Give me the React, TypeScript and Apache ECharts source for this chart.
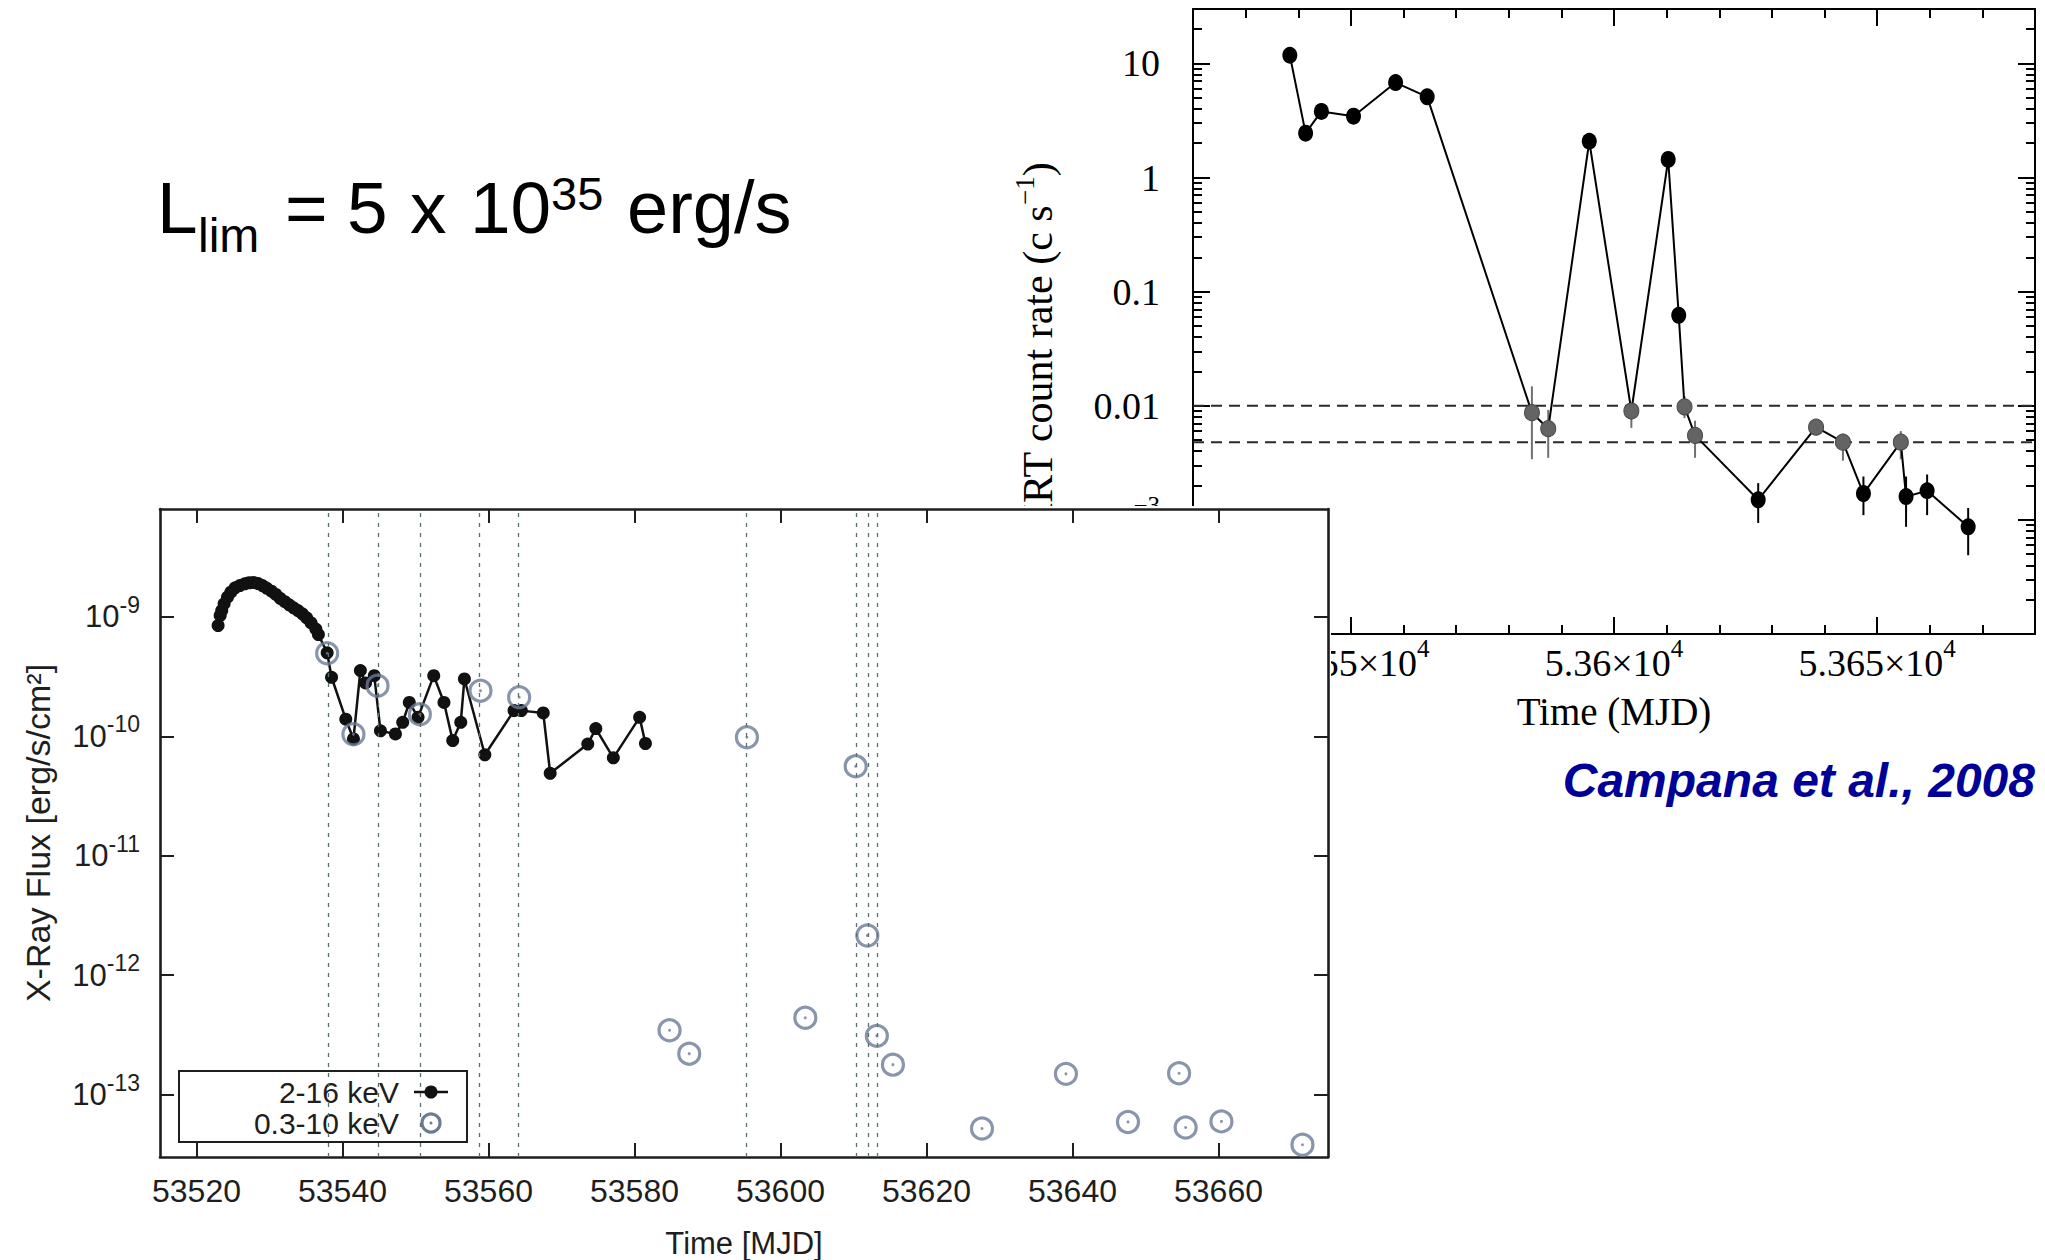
import React, { useEffect, useRef } from "react";
import * as echarts from "echarts";

const SERIF = "'Liberation Serif', 'Times New Roman', Times, serif";
const SANS = "'Liberation Sans', Arial, Helvetica, sans-serif";

// ---------------- Right panel: Swift/XRT count rate (Campana et al., 2008) ----------------
const xrtMJD = [53538.4, 53541.4, 53544.4, 53550.5, 53558.5, 53564.5, 53584.4, 53587.5, 53595.3, 53603.3, 53610.3, 53612.3, 53613.4, 53615.4, 53627.4, 53638.4, 53643.5, 53647.4, 53654.5, 53655.5, 53659.5, 53667.3];
const xrtRate = [11.8, 2.45, 3.8, 3.45, 6.8, 5.1, 0.0087, 0.0063, 2.08, 0.009, 1.44, 0.062, 0.0098, 0.0055, 0.0015, 0.0065, 0.0048, 0.0017, 0.0048, 0.0016, 0.0018, 0.00087];
const xrtGrey = [0, 0, 0, 0, 0, 0, 1, 1, 0, 1, 0, 0, 1, 1, 0, 1, 1, 0, 1, 0, 0, 0];
const xrtErrLow = [null, null, null, null, null, null, 0.0034, 0.0035, null, 0.0064, null, null, 0.0078, 0.0035, 0.00094, 0.0056, 0.0033, 0.0011, 0.0034, 0.00087, 0.0011, 0.00049];
const xrtErrHigh = [null, null, null, null, null, null, 0.0148, 0.0092, null, 0.0106, null, null, 0.0121, 0.0074, 0.0021, 0.0076, 0.0057, 0.0024, 0.006, 0.0024, 0.0025, 0.00127];
const xrtLimits = [0.01, 0.0048];
const xrtRangeX = [53520, 53680];
const xrtMajorX = [53550, 53600, 53650];
const xrtMinorX = [53530, 53540, 53560, 53570, 53580, 53590, 53610, 53620, 53630, 53640, 53660, 53670];
const xrtMajorY = [0.0001, 0.001, 0.01, 0.1, 1, 10];
const xrtMinorY: number[] = [];
for (const d of xrtMajorY) {
  for (let k = 2; k <= 9; k++) {
    if (k * d < 30) xrtMinorY.push(+(k * d).toPrecision(3));
  }
}

// ---------------- Left panel: X-ray flux ----------------
const hardMJD = [
  53522.96, 53523.24, 53523.46, 53523.78, 53524.24, 53524.7, 53525.29, 53525.93, 53526.6, 53527.2,
  53527.8, 53528.44, 53529.03, 53529.6, 53530.27, 53530.87, 53531.46, 53532.1, 53532.7, 53533.3,
  53533.9, 53534.5, 53535.1, 53535.7, 53536.35, 53536.7, 53537.9, 53538.5, 53540.45, 53541.5,
  53542.45, 53543.15, 53544.35, 53545.2, 53547.25, 53548.25, 53549.15, 53550.35, 53552.5, 53553.9,
  53555.1, 53556.2, 53556.7, 53559.5, 53563.5, 53564.5, 53567.5, 53568.45, 53573.6, 53574.7,
  53577.1, 53580.7, 53581.5,
];
const hardFlux = [
  8.45e-10, 1.026e-9, 1.13e-9, 1.285e-9, 1.46e-9, 1.61e-9, 1.75e-9, 1.83e-9, 1.89e-9, 1.93e-9,
  1.94e-9, 1.9e-9, 1.83e-9, 1.74e-9, 1.64e-9, 1.54e-9, 1.43e-9, 1.34e-9, 1.26e-9, 1.19e-9,
  1.13e-9, 1.06e-9, 9.8e-10, 8.9e-10, 7.9e-10, 7.1e-10, 5.0e-10, 3.12e-10, 1.39e-10, 9.5e-11,
  3.55e-10, 2.8e-10, 3.22e-10, 1.11e-10, 1.045e-10, 1.31e-10, 1.92e-10, 1.44e-10, 3.22e-10, 1.92e-10,
  9.2e-11, 1.31e-10, 3.02e-10, 7.0e-11, 1.64e-10, 1.64e-10, 1.57e-10, 4.9e-11, 8.6e-11, 1.16e-10,
  6.6e-11, 1.44e-10, 8.7e-11,
];
const softMJD = [53537.9, 53541.5, 53544.8, 53550.6, 53558.9, 53564.2, 53584.8, 53587.5, 53595.4, 53603.4, 53610.3, 53611.9, 53613.2, 53615.4, 53627.6, 53639.1, 53647.6, 53654.6, 53655.5, 53660.4, 53671.5];
const softFlux = [4.95e-10, 1.04e-10, 2.65e-10, 1.53e-10, 2.41e-10, 2.12e-10, 3.46e-13, 2.2e-13, 9.8e-11, 4.4e-13, 5.6e-11, 2.15e-12, 3.1e-13, 1.78e-13, 5.2e-14, 1.49e-13, 5.9e-14, 1.51e-13, 5.3e-14, 5.96e-14, 3.8e-14];
const xrtEpochMJD = [53538.1, 53544.85, 53550.6, 53558.7, 53564.1, 53595.3, 53610.4, 53612.0, 53613.2];
const fluxTicksX = [53520, 53540, 53560, 53580, 53600, 53620, 53640, 53660];
const fluxTicksY = [1e-13, 1e-12, 1e-11, 1e-10, 1e-9];
const legendNames = ["2-16 keV", "0.3-10 keV"];

const RING = "#6b7b95";
const INK = "#1e1e1e";

function buildRight(): any {
  const ls = { color: "#000", width: 2 };
  const xC = {
    type: "value", min: xrtRangeX[0], max: xrtRangeX[1], gridIndex: 0,
    splitLine: { show: false },
    axisLine: { show: true, onZero: false, lineStyle: ls },
  };
  const yC = {
    type: "log", logBase: 10, min: 0.0001, max: 30, gridIndex: 0,
    splitLine: { show: false },
    axisLine: { show: true, onZero: false, lineStyle: ls },
  };
  const majorTickX = { show: true, inside: true, length: 17, customValues: xrtMajorX, lineStyle: ls };
  const minorTickX = { show: true, inside: true, length: 9, customValues: xrtMinorX, lineStyle: ls };
  const majorTickY = { show: true, inside: true, length: 17, customValues: xrtMajorY, lineStyle: ls };
  const minorTickY = { show: true, inside: true, length: 9, customValues: xrtMinorY, lineStyle: ls };

  const errRows = xrtMJD
    .map((x, i) => (xrtErrLow[i] == null ? null : [x, xrtErrLow[i], xrtErrHigh[i], xrtGrey[i]]))
    .filter((r) => r !== null);

  const pts = xrtMJD.map((x, i) => ({
    value: [x, xrtRate[i]],
    symbolSize: xrtGrey[i] ? [15, 16] : [15, 17],
    itemStyle: xrtGrey[i]
      ? { color: "#646464", borderColor: "#474747", borderWidth: 1 }
      : { color: "#000", borderColor: "#000", borderWidth: 0 },
  }));

  const lParts = [
    { t: "L", x: 157, base: 233, f: 73 },
    { t: "lim", x: 198, base: 252, f: 48 },
    { t: "=", x: 285, base: 233, f: 73 },
    { t: "5", x: 347, base: 233, f: 73 },
    { t: "x", x: 410, base: 233, f: 73 },
    { t: "10", x: 470, base: 233, f: 73 },
    { t: "35", x: 551, base: 210, f: 47 },
    { t: "erg/s", x: 627, base: 233, f: 74 },
  ];

  const limitSeries = xrtLimits.map((v) => ({
    type: "line", xAxisIndex: 0, yAxisIndex: 0, silent: true, z: 1,
    data: [[xrtRangeX[0], v], [xrtRangeX[1], v]],
    symbol: "none", showSymbol: false,
    lineStyle: { type: [11, 7], color: "#2a2a2a", width: 2 },
  }));

  return {
    animation: false,
    backgroundColor: "#fff",
    grid: { left: 1193, top: 9, width: 842, height: 625, containLabel: false, outerBoundsMode: "none" },
    xAxis: [
      {
        ...xC, position: "bottom", axisTick: majorTickX,
        axisLabel: {
          show: true, customValues: xrtMajorX, margin: 2,
          formatter: (v: number) => `{m|${+(v / 1e4).toFixed(4)}×10}{s|4}`,
          rich: {
            m: { fontSize: 38, fontFamily: SERIF, color: "#000", padding: [8, 0, 8, 0] },
            s: { fontSize: 25, fontFamily: SERIF, color: "#000", verticalAlign: "top" },
          },
        },
        name: "Time (MJD)", nameLocation: "middle", nameGap: 58, nameMoveOverlap: false,
        nameTextStyle: { fontSize: 39, fontFamily: SERIF, color: "#000" },
      },
      { ...xC, position: "bottom", axisLine: { show: false }, axisTick: minorTickX, axisLabel: { show: false } },
      { ...xC, position: "top", axisTick: majorTickX, axisLabel: { show: false } },
      { ...xC, position: "top", axisLine: { show: false }, axisTick: minorTickX, axisLabel: { show: false } },
    ],
    yAxis: [
      {
        ...yC, position: "left", axisTick: majorTickY,
        axisLabel: {
          show: true, customValues: xrtMajorY, margin: 33, fontSize: 38, fontFamily: SERIF, color: "#000",
          formatter: (v: number) => {
            const e = Math.round(Math.log10(v));
            if (e >= -2) return `{p|${String(v)}}`;
            return `{m|10}{s|−${-e}}`;
          },
          rich: {
            p: { fontSize: 38, fontFamily: SERIF, color: "#000" },
            m: { fontSize: 38, fontFamily: SERIF, color: "#000", padding: [8, 0, 8, 0] },
            s: { fontSize: 25, fontFamily: SERIF, color: "#000", verticalAlign: "top" },
          },
        },
      },
      { ...yC, position: "left", axisLine: { show: false }, axisTick: minorTickY, axisLabel: { show: false } },
      { ...yC, position: "right", axisTick: majorTickY, axisLabel: { show: false } },
      { ...yC, position: "right", axisLine: { show: false }, axisTick: minorTickY, axisLabel: { show: false } },
    ],
    series: [
      ...limitSeries,
      {
        type: "custom", xAxisIndex: 0, yAxisIndex: 0, silent: true, z: 2,
        data: errRows, encode: { x: 0, y: [1, 2] },
        renderItem: (params: any, api: any) => {
          const x = api.value(0);
          const p1 = api.coord([x, api.value(1)]);
          const p2 = api.coord([x, api.value(2)]);
          const grey = api.value(3) === 1;
          return {
            type: "line",
            shape: { x1: p1[0], y1: p1[1], x2: p2[0], y2: p2[1] },
            style: { stroke: grey ? "#707070" : "#000", lineWidth: 2 },
          };
        },
      },
      {
        type: "line", xAxisIndex: 0, yAxisIndex: 0, silent: true, z: 3,
        data: pts, symbol: "circle",
        lineStyle: { color: "#000", width: 2 },
        itemStyle: { color: "#000" },
      },
    ],
    graphic: [
      ...lParts.map((p) => ({
        type: "text", x: p.x, y: p.base - 0.3465 * p.f,
        style: { text: p.t, fontSize: p.f, fontFamily: SANS, fill: "#000", align: "left", verticalAlign: "middle" },
      })),
      {
        type: "text", x: 2035, y: 780,
        style: {
          text: "Campana et al., 2008", fontSize: 48, fontFamily: SANS, fontWeight: "bold", fontStyle: "italic",
          fill: "#000099", align: "right", verticalAlign: "middle",
        },
      },
      {
        type: "text", x: 1038, y: 348, rotation: Math.PI / 2,
        style: {
          text: "{n|XRT count rate (c s}{s|−1}{n|)}",
          align: "center", verticalAlign: "middle",
          rich: {
            n: { fontSize: 42, fontFamily: SERIF, fill: "#000", padding: [6, 0, 6, 0] },
            s: { fontSize: 27, fontFamily: SERIF, fill: "#000", verticalAlign: "top" },
          },
        },
      },
    ],
  };
}

function buildLeft(): any {
  const ls = { color: INK, width: 2.6 };
  const tls = { color: INK, width: 2 };
  const xC = {
    type: "value", min: 53515, max: 53675, gridIndex: 0,
    splitLine: { show: false },
    axisLine: { show: true, onZero: false, lineStyle: ls },
  };
  const yC = {
    type: "log", logBase: 10, min: 3e-14, max: 8e-9, gridIndex: 0,
    splitLine: { show: false },
    axisLine: { show: true, onZero: false, lineStyle: ls },
  };
  const tickX = { show: true, inside: true, length: 14, customValues: fluxTicksX, lineStyle: tls };
  const tickY = { show: true, inside: true, length: 14, customValues: fluxTicksY, lineStyle: tls };

  const legendTop = 565;
  return {
    animation: false,
    backgroundColor: "#fff",
    grid: { left: 160, top: 3, width: 1168, height: 648, containLabel: false, outerBoundsMode: "none" },
    xAxis: [
      {
        ...xC, position: "bottom", axisTick: tickX,
        axisLabel: {
          show: true, customValues: fluxTicksX, margin: 18, fontSize: 32, fontFamily: SANS, color: INK,
          formatter: (v: number) => String(v),
        },
        name: "Time [MJD]", nameLocation: "middle", nameGap: 71, nameMoveOverlap: false,
        nameTextStyle: { fontSize: 31, fontFamily: SANS, color: INK },
      },
      { ...xC, position: "top", axisTick: tickX, axisLabel: { show: false } },
    ],
    yAxis: [
      {
        ...yC, position: "left", axisTick: tickY,
        axisLabel: {
          show: true, customValues: fluxTicksY, margin: 20,
          formatter: (v: number) => `{m|10}{s|${Math.round(Math.log10(v))}}`,
          rich: {
            m: { fontSize: 31, fontFamily: SANS, color: INK, padding: [8, 0, 8, 0] },
            s: { fontSize: 23, fontFamily: SANS, color: INK, verticalAlign: "top" },
          },
        },
        name: "X-Ray Flux [erg/s/cm²]", nameLocation: "middle", nameGap: 105, nameMoveOverlap: false,
        nameTextStyle: { fontSize: 34, fontFamily: SANS, color: INK },
      },
      { ...yC, position: "right", axisTick: tickY, axisLabel: { show: false } },
    ],
    series: [
      {
        type: "line", name: legendNames[0], silent: true, z: 3,
        data: hardMJD.map((x, i) => [x, hardFlux[i]]),
        symbol: "circle", symbolSize: 13,
        itemStyle: { color: "#111" },
        lineStyle: { color: "#111", width: 2.5 },
        markLine: {
          silent: true, symbol: ["none", "none"], label: { show: false }, precision: 6,
          lineStyle: { type: [4, 6], color: "#587070", width: 1.3 },
          data: xrtEpochMJD.map((v) => ({ xAxis: v })),
        },
      },
      {
        type: "scatter", name: legendNames[1], silent: true, z: 4,
        data: softMJD.map((x, i) => [x, softFlux[i]]),
        symbol: "circle", symbolSize: 21,
        itemStyle: { color: "rgba(255,255,255,0)", borderColor: RING, borderWidth: 3.2 },
      },
      {
        type: "scatter", silent: true, z: 4,
        data: softMJD.map((x, i) => [x, softFlux[i]]),
        symbol: "circle", symbolSize: 3,
        itemStyle: { color: RING },
      },
    ],
    graphic: [
      {
        type: "rect", shape: { x: 179, y: legendTop, width: 288, height: 71 },
        style: { fill: "rgba(255,255,255,0)", stroke: INK, lineWidth: 2 },
      },
      {
        type: "text", x: 399, y: legendTop + 21,
        style: { text: legendNames[0], fontSize: 30, fontFamily: SANS, fill: INK, align: "right", verticalAlign: "middle" },
      },
      {
        type: "text", x: 399, y: legendTop + 52,
        style: { text: legendNames[1], fontSize: 30, fontFamily: SANS, fill: INK, align: "right", verticalAlign: "middle" },
      },
      {
        type: "line", shape: { x1: 414, y1: legendTop + 21, x2: 448, y2: legendTop + 21 },
        style: { stroke: "#111", lineWidth: 2.4 },
      },
      { type: "circle", shape: { cx: 431, cy: legendTop + 21, r: 6.5 }, style: { fill: "#111" } },
      {
        type: "circle", shape: { cx: 431, cy: legendTop + 52, r: 9 },
        style: { fill: "rgba(255,255,255,0)", stroke: RING, lineWidth: 3.2 },
      },
      { type: "circle", shape: { cx: 431, cy: legendTop + 52, r: 1.5 }, style: { fill: RING } },
    ],
  };
}

export default function App() {
  const rightRef = useRef<HTMLDivElement>(null);
  const leftRef = useRef<HTMLDivElement>(null);

  useEffect(() => {
    document.body.style.margin = "0";
    const right = echarts.init(rightRef.current as HTMLDivElement, undefined, { renderer: "svg" });
    const left = echarts.init(leftRef.current as HTMLDivElement, undefined, { renderer: "svg" });
    right.setOption(buildRight());
    left.setOption(buildLeft());
    return () => {
      right.dispose();
      left.dispose();
    };
  }, []);

  return (
    <div style={{ position: "relative", width: 2045, height: 1260, overflow: "hidden", background: "#fff" }}>
      <div ref={rightRef} style={{ position: "absolute", left: 0, top: 0, width: 2045, height: 1260 }} />
      <div
        ref={leftRef}
        style={{ position: "absolute", left: 0, top: 506, width: 1331, height: 754, background: "#fff" }}
      />
    </div>
  );
}
